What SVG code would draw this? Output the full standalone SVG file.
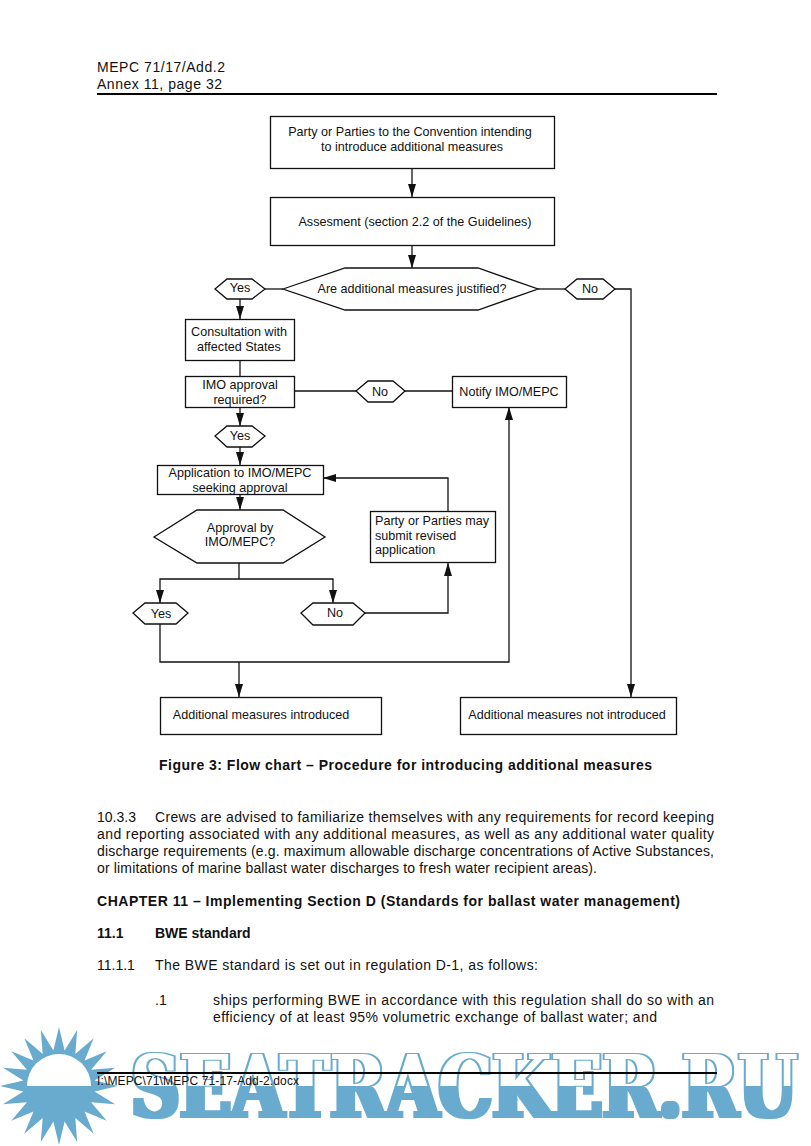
<svg xmlns="http://www.w3.org/2000/svg" width="811" height="1146" viewBox="0 0 811 1146">
<style>
text{font-family:"Liberation Sans",Arial,sans-serif;fill:#111}
.n{fill:#fff;stroke:#111;stroke-width:1.3}
.c{fill:none;stroke:#111;stroke-width:1.3}
.f text{font-size:12.6px;text-anchor:middle}
.f text.l{text-anchor:start}
.b{font-size:14px}
.h{font-size:14px;font-weight:bold}
.r{stroke:#000;stroke-width:2}
</style>
<defs>
<marker id="ar" markerUnits="userSpaceOnUse" markerWidth="14" markerHeight="10" refX="13" refY="5" orient="auto" overflow="visible"><path d="M0,1 L13,5 L0,9 Z" fill="#111"/></marker>
<filter id="fat" filterUnits="userSpaceOnUse" x="110" y="1040" width="701" height="90" color-interpolation-filters="sRGB">
<feMorphology in="SourceAlpha" operator="dilate" radius="2.500 1" result="outer"/>
<feFlood flood-color="#68abce" result="blue"/>
<feComposite in="blue" in2="outer" operator="in" result="solid"/>
<feMorphology in="SourceAlpha" operator="dilate" radius="1 0" result="inner"/>
<feFlood x="110" y="1040" width="701" height="46" flood-color="#fff" result="white"/>
<feComposite in="white" in2="inner" operator="in" result="top"/>
<feMerge><feMergeNode in="solid"/><feMergeNode in="top"/></feMerge>
</filter>
</defs>
<rect width="811" height="1146" fill="#fff"/>

<g id="header">
<text class="b" x="97" y="72" textLength="128">MEPC 71/17/Add.2</text>
<text class="b" x="97" y="89" textLength="125">Annex 11, page 32</text>
<line class="r" x1="97" y1="94" x2="717" y2="94"/>
</g>

<g id="connectors">
<path class="c" d="M412,168V197" marker-end="url(#ar)"/>
<path class="c" d="M412,245V268" marker-end="url(#ar)"/>
<path class="c" d="M265,289H283"/>
<path class="c" d="M538,289H565"/>
<path class="c" d="M615,289H631V697" marker-end="url(#ar)"/>
<path class="c" d="M240,299V319" marker-end="url(#ar)"/>
<path class="c" d="M240,361V376"/>
<path class="c" d="M240,407V426" marker-end="url(#ar)"/>
<path class="c" d="M240,447V465" marker-end="url(#ar)"/>
<path class="c" d="M240,494V510" marker-end="url(#ar)"/>
<path class="c" d="M295,391H356"/>
<path class="c" d="M405,391H452"/>
<path class="c" d="M239,563V579"/>
<path class="c" d="M239,579H160V603" marker-end="url(#ar)"/>
<path class="c" d="M239,579H333V603" marker-end="url(#ar)"/>
<path class="c" d="M365,613H448V563" marker-end="url(#ar)"/>
<path class="c" d="M448,511V478H323" marker-end="url(#ar)"/>
<path class="c" d="M160,624V662H509V407" marker-end="url(#ar)"/>
<path class="c" d="M239,662V697" marker-end="url(#ar)"/>
</g>

<g id="n1" class="f"><rect class="n" x="270.500" y="116.500" width="284" height="52"/><text x="410" y="136">Party or Parties to the Convention intending</text><text x="412" y="151">to introduce additional measures</text></g>
<g id="n2" class="f"><rect class="n" x="270.500" y="197.500" width="284" height="48"/><text x="415" y="226">Assesment (section 2.2 of the Guidelines)</text></g>
<g id="n3" class="f"><polygon class="n" points="283,289 345,268 478,268 538,289 478,310 345,310"/><text x="412" y="293">Are additional measures justified?</text></g>
<g id="n4" class="f"><polygon class="n" points="215,289 227,279 252,279 265,289 252,299 227,299"/><text x="240" y="292">Yes</text></g>
<g id="n5" class="f"><polygon class="n" points="565,289 577,279 603,279 615,289 603,299 577,299"/><text x="590" y="293">No</text></g>
<g id="n6" class="f"><rect class="n" x="185.500" y="319.500" width="109" height="41"/><text x="239" y="336">Consultation with</text><text x="239" y="351">affected States</text></g>
<g id="n7" class="f"><rect class="n" x="185.500" y="376.500" width="109" height="31"/><text x="240" y="389">IMO approval</text><text x="240" y="404">required?</text></g>
<g id="n8" class="f"><polygon class="n" points="356,391 368,381 393,381 405,391 393,402 368,402"/><text x="380" y="396">No</text></g>
<g id="n9" class="f"><rect class="n" x="452.500" y="376.500" width="114" height="31"/><text x="509" y="396">Notify IMO/MEPC</text></g>
<g id="n10" class="f"><polygon class="n" points="215,436 227,426 252,426 265,436 252,447 227,447"/><text x="240" y="440">Yes</text></g>
<g id="n11" class="f"><rect class="n" x="157.500" y="465.500" width="166" height="29"/><text x="240" y="477">Application to IMO/MEPC</text><text x="240" y="492">seeking approval</text></g>
<g id="n12" class="f"><polygon class="n" points="154,537 197,510 283,510 325,537 283,563 197,563"/><text x="240" y="532">Approval by</text><text x="240" y="546">IMO/MEPC?</text></g>
<g id="n13" class="f"><rect class="n" x="370.500" y="511.500" width="125" height="51"/><text class="l" x="375" y="525">Party or Parties may</text><text class="l" x="375" y="540">submit revised</text><text class="l" x="375" y="554">application</text></g>
<g id="n14" class="f"><polygon class="n" points="133,613 145,603 176,603 188,613 176,624 145,624"/><text x="161" y="618">Yes</text></g>
<g id="n15" class="f"><polygon class="n" points="301,613 313,603 353,603 365,613 353,625 313,625"/><text x="335" y="617">No</text></g>
<g id="n16" class="f"><rect class="n" x="160.500" y="697.500" width="221" height="37"/><text x="261" y="719">Additional measures introduced</text></g>
<g id="n17" class="f"><rect class="n" x="460.500" y="697.500" width="216" height="37"/><text x="567" y="719">Additional measures not introduced</text></g>

<g id="body">
<text class="h" x="159" y="770" textLength="493">Figure 3: Flow chart – Procedure for introducing additional measures</text>
<text class="b" x="97" y="822">10.3.3</text>
<text class="b" x="155" y="822" textLength="559">Crews are advised to familiarize themselves with any requirements for record keeping</text>
<text class="b" x="97" y="839" textLength="617">and reporting associated with any additional measures, as well as any additional water quality</text>
<text class="b" x="97" y="856" textLength="617">discharge requirements (e.g. maximum allowable discharge concentrations of Active Substances,</text>
<text class="b" x="97" y="873" textLength="500">or limitations of marine ballast water discharges to fresh water recipient areas).</text>
<text class="h" x="97" y="906" textLength="583">CHAPTER 11 – Implementing Section D (Standards for ballast water management)</text>
<text class="h" x="97" y="938">11.1</text>
<text class="h" x="155" y="938">BWE standard</text>
<text class="b" x="97" y="970">11.1.1</text>
<text class="b" x="155" y="970" textLength="383">The BWE standard is set out in regulation D-1, as follows:</text>
<text class="b" x="155" y="1005">.1</text>
<text class="b" x="213" y="1005" textLength="501">ships performing BWE in accordance with this regulation shall do so with an</text>
<text class="b" x="213" y="1022" textLength="444">efficiency of at least 95% volumetric exchange of ballast water; and</text>
</g>

<g id="watermark">
<g transform="translate(59,1086)">
<polygon fill="#68abce" points="59,0 35.600,-5.600 56.100,-18.200 32.100,-16.300 47.700,-34.700 25.500,-25.500 34.700,-47.700 16.300,-32.100 18.200,-56.100 5.600,-35.600 0,-59 -5.600,-35.600 -18.200,-56.100 -16.300,-32.100 -34.700,-47.700 -25.500,-25.500 -47.700,-34.700 -32.100,-16.300 -56.100,-18.200 -35.600,-5.600 -59,0 -35.600,5.600 -56.100,18.200 -32.100,16.300 -47.700,34.700 -25.500,25.500 -34.700,47.700 -16.300,32.100 -18.200,56.100 -5.600,35.600 0,59 5.600,35.600 18.200,56.100 16.300,32.100 34.700,47.700 25.500,25.500 47.700,34.700 32.100,16.300 56.100,18.200 35.600,5.600"/>
<path fill="#fff" d="M-32,0A32,32 0 0 1 32,0Z"/>
</g>
<text x="131" y="1117" font-size="86" textLength="666" lengthAdjust="spacingAndGlyphs" filter="url(#fat)" style="font-family:'DejaVu Serif',serif;font-weight:bold;fill:#68abce">SEATRACKER.RU</text>
</g>

<g id="footer">
<line class="r" x1="97" y1="1073" x2="717" y2="1073"/>
<text x="97" y="1085" style="font-size:12px" textLength="202">I:\MEPC\71\MEPC 71-17-Add-2.docx</text>
</g>
</svg>
